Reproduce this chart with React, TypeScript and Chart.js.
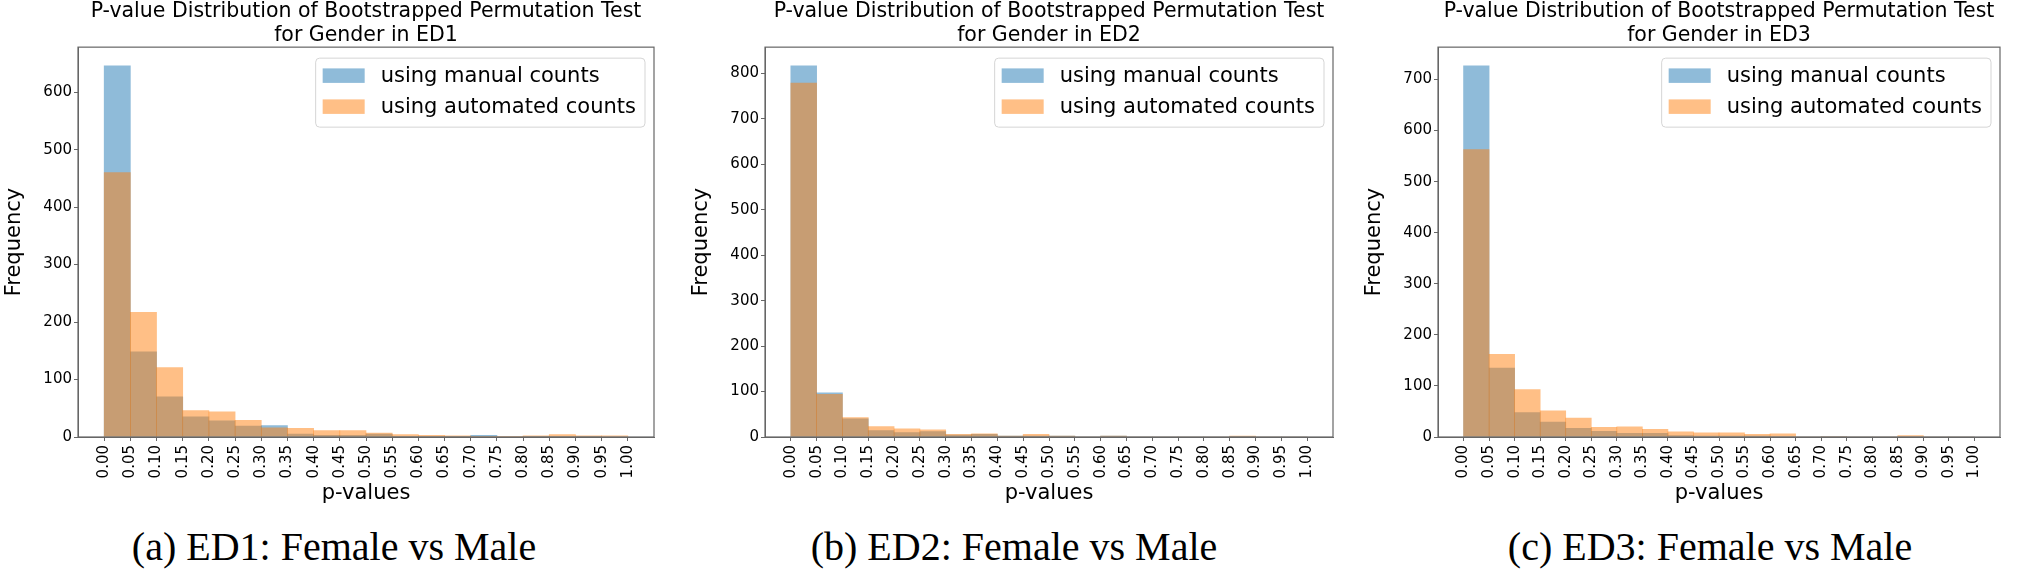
import React, { useEffect, useRef } from "react";
import { Chart, registerables } from "chart.js";

Chart.register(...registerables);

// ---------------- data ----------------
const BIN_CENTERS = [
  0.025, 0.075, 0.125, 0.175, 0.225, 0.275, 0.325, 0.375, 0.425, 0.475,
  0.525, 0.575, 0.625, 0.675, 0.725, 0.775, 0.825, 0.875, 0.925, 0.975,
];
const TICK_VALUES = [
  0, 0.05, 0.1, 0.15, 0.2, 0.25, 0.3, 0.35, 0.4, 0.45, 0.5,
  0.55, 0.6, 0.65, 0.7, 0.75, 0.8, 0.85, 0.9, 0.95, 1.0,
];
const TICK_LABELS = [
  "0.00", "0.05", "0.10", "0.15", "0.20", "0.25", "0.30", "0.35", "0.40", "0.45", "0.50",
  "0.55", "0.60", "0.65", "0.70", "0.75", "0.80", "0.85", "0.90", "0.95", "1.00",
];

const ED1_MANUAL = [646, 148, 70, 35, 28, 19, 20, 5, 3, 3, 5, 1, 1, 1, 3, 0, 1, 1, 1, 0];
const ED1_AUTOMATED = [460, 217, 121, 46, 44, 29, 16, 15, 11, 11, 7, 4, 3, 2, 1, 1, 2, 4, 2, 2];

const ED2_MANUAL = [817, 97, 40, 14, 10, 12, 4, 6, 2, 2, 2, 0, 2, 0, 0, 0, 0, 1, 0, 0];
const ED2_AUTOMATED = [779, 94, 43, 23, 18, 16, 6, 7, 2, 6, 2, 0, 2, 0, 0, 0, 0, 2, 0, 0];

const ED3_MANUAL = [727, 135, 48, 29, 17, 11, 7, 7, 3, 2, 2, 2, 1, 0, 1, 0, 0, 1, 0, 0];
const ED3_AUTOMATED = [563, 162, 93, 51, 37, 19, 20, 15, 10, 8, 8, 5, 6, 0, 1, 0, 0, 3, 0, 0];

const LEGEND_LABELS = ["using manual counts", "using automated counts"];
const TITLE_LINE_1 = "P-value Distribution of Bootstrapped Permutation Test";
const TITLE_LINE_2 = ["for Gender in ED1", "for Gender in ED2", "for Gender in ED3"];
const CAPTIONS = ["(a) ED1: Female vs Male", "(b) ED2: Female vs Male", "(c) ED3: Female vs Male"];
const X_TITLE = "p-values";
const Y_TITLE = "Frequency";

// ---------------- layout / style ----------------
const AXES_LEFT = [78, 765, 1438];
const AXES_WIDTH = [576, 568, 562];
const CAPTION_X = [334, 1014, 1710];
const Y_AXIS_W = 76;
const RIGHT_PAD = 10;
const CANVAS_H = 508;
const X_AXIS_H = 71;
const SANS = "'DejaVu Sans', sans-serif";
const BLUE = "rgba(31,119,180,0.5)";
const ORANGE = "rgba(255,127,14,0.5)";
const SPINE = "#666666";

const framePlugin = {
  id: "frame",
  afterDatasetsDraw(chart: any) {
    const { ctx, chartArea: a } = chart;
    ctx.save();
    ctx.strokeStyle = SPINE;
    ctx.lineWidth = 1.2;
    ctx.strokeRect(a.left, a.top, a.right - a.left, a.bottom - a.top);
    ctx.restore();
  },
};

const mplLegendPlugin = {
  id: "mplLegend",
  afterDraw(chart: any) {
    const { ctx, chartArea: a } = chart;
    const ds = chart.data.datasets;
    ctx.save();
    ctx.font = `21px ${SANS}`;
    const textW = Math.max(...ds.map((d: any) => ctx.measureText(d.label).width));
    const padL = 7, patchW = 42, patchH = 14.5, gap = 16, padR = 9;
    const boxW = padL + patchW + gap + textW + padR;
    const boxH = 69;
    const right = a.right - 9;
    const top = a.top + 11;
    const left = right - boxW;
    const r = 4;
    ctx.beginPath();
    ctx.moveTo(left + r, top);
    ctx.lineTo(right - r, top);
    ctx.quadraticCurveTo(right, top, right, top + r);
    ctx.lineTo(right, top + boxH - r);
    ctx.quadraticCurveTo(right, top + boxH, right - r, top + boxH);
    ctx.lineTo(left + r, top + boxH);
    ctx.quadraticCurveTo(left, top + boxH, left, top + boxH - r);
    ctx.lineTo(left, top + r);
    ctx.quadraticCurveTo(left, top, left + r, top);
    ctx.closePath();
    ctx.fillStyle = "rgba(255,255,255,0.8)";
    ctx.fill();
    ctx.strokeStyle = "#d5d5d5";
    ctx.lineWidth = 1;
    ctx.stroke();
    const rows = [17.5, 48.5];
    ds.forEach((d: any, i: number) => {
      const cy = top + rows[i];
      ctx.fillStyle = d.backgroundColor;
      ctx.fillRect(left + padL, cy - patchH / 2, patchW, patchH);
      ctx.fillStyle = "#000";
      ctx.textBaseline = "middle";
      ctx.textAlign = "left";
      ctx.fillText(d.label, left + padL + patchW + gap, cy + 1);
    });
    ctx.restore();
  },
};

type PanelProps = {
  manual: number[];
  automated: number[];
  title2: string;
  caption: string;
  axesLeft: number;
  axesWidth: number;
  captionX: number;
};

function Panel({ manual, automated, title2, caption, axesLeft, axesWidth, captionX }: PanelProps) {
  const ref = useRef<HTMLCanvasElement | null>(null);

  useEffect(() => {
    let chart: any = null;
    let cancelled = false;
    const make = () => {
      if (cancelled || !ref.current) return;
      const yMax = Math.max(...manual, ...automated) * 1.05;
      chart = new Chart(ref.current, {
        type: "bar",
        data: {
          datasets: [
            {
              label: LEGEND_LABELS[0],
              data: BIN_CENTERS.map((x, i) => ({ x, y: manual[i] })),
              backgroundColor: BLUE,
              borderWidth: 0,
              barPercentage: 1,
              categoryPercentage: 1,
              grouped: false,
              order: 1,
            },
            {
              label: LEGEND_LABELS[1],
              data: BIN_CENTERS.map((x, i) => ({ x, y: automated[i] })),
              backgroundColor: ORANGE,
              borderWidth: 0,
              barPercentage: 1,
              categoryPercentage: 1,
              grouped: false,
              order: 0,
            },
          ],
        } as any,
        options: {
          animation: false,
          responsive: false,
          events: [],
          layout: { padding: { left: 0, right: RIGHT_PAD, top: 0, bottom: 0 } },
          plugins: {
            legend: { display: false },
            tooltip: { enabled: false },
            title: {
              display: true,
              fullSize: false,
              text: [TITLE_LINE_1, title2],
              color: "#000",
              font: { family: SANS, size: 20.5, weight: "normal", lineHeight: 1.15 },
              padding: { top: 0, bottom: 0 },
            },
          },
          scales: {
            x: {
              type: "linear",
              min: -0.05,
              max: 1.05,
              offset: false,
              afterBuildTicks: (s: any) => {
                s.ticks = TICK_VALUES.map((v) => ({ value: v }));
              },
              afterFit: (s: any) => {
                s.height = X_AXIS_H;
              },
              ticks: {
                autoSkip: false,
                minRotation: 90,
                maxRotation: 90,
                padding: 4,
                color: "#000",
                font: { family: SANS, size: 15 },
                callback: (_v: any, i: number) => TICK_LABELS[i],
              },
              grid: {
                display: true,
                offset: false,
                drawOnChartArea: false,
                drawTicks: true,
                tickLength: 4,
                color: SPINE,
              },
              border: { display: true, color: SPINE },
              title: {
                display: true,
                text: X_TITLE,
                color: "#000",
                font: { family: SANS, size: 21, lineHeight: 1.2 },
                padding: { top: 0, bottom: 1.5 },
              },
            },
            y: {
              type: "linear",
              min: 0,
              max: yMax,
              afterFit: (s: any) => {
                s.width = Y_AXIS_W;
              },
              ticks: {
                stepSize: 100,
                includeBounds: false,
                padding: 2,
                color: "#000",
                font: { family: SANS, size: 15 },
              },
              grid: {
                display: true,
                drawOnChartArea: false,
                drawTicks: true,
                tickLength: 4,
                color: SPINE,
              },
              border: { display: true, color: SPINE },
              title: {
                display: true,
                text: Y_TITLE,
                color: "#000",
                font: { family: SANS, size: 21, lineHeight: 1.2 },
                padding: { top: 0, bottom: 0 },
              },
            },
          },
        } as any,
        plugins: [framePlugin, mplLegendPlugin],
      });
    };
    const fonts = (document as any).fonts;
    if (fonts && fonts.load) {
      Promise.all([fonts.load(`21px "DejaVu Sans"`), fonts.load(`40px "Liberation Serif"`)])
        .catch(() => null)
        .then(make);
    } else {
      make();
    }
    return () => {
      cancelled = true;
      if (chart) chart.destroy();
    };
  }, [manual, automated, title2]);

  const canvasLeft = axesLeft - Y_AXIS_W;
  const canvasW = Y_AXIS_W + axesWidth + RIGHT_PAD;
  return (
    <>
      <canvas
        ref={ref}
        width={canvasW}
        height={CANVAS_H}
        style={{ position: "absolute", left: canvasLeft, top: 0, width: canvasW, height: CANVAS_H }}
      />
      <div
        style={{
          position: "absolute",
          left: captionX - 300,
          width: 600,
          top: 524,
          height: 46,
          lineHeight: "46px",
          textAlign: "center",
          fontFamily: "'Liberation Serif', serif",
          fontSize: 40,
          color: "#000",
          whiteSpace: "pre",
        }}
      >
        {caption}
      </div>
    </>
  );
}

export default function App() {
  const series = [
    [ED1_MANUAL, ED1_AUTOMATED],
    [ED2_MANUAL, ED2_AUTOMATED],
    [ED3_MANUAL, ED3_AUTOMATED],
  ];
  return (
    <div
      style={{
        position: "absolute",
        left: 0,
        top: 0,
        width: 2030,
        height: 571,
        background: "#fff",
        overflow: "hidden",
      }}
    >
      {series.map((s, i) => (
        <Panel
          key={i}
          manual={s[0]}
          automated={s[1]}
          title2={TITLE_LINE_2[i]}
          caption={CAPTIONS[i]}
          axesLeft={AXES_LEFT[i]}
          axesWidth={AXES_WIDTH[i]}
          captionX={CAPTION_X[i]}
        />
      ))}
    </div>
  );
}
